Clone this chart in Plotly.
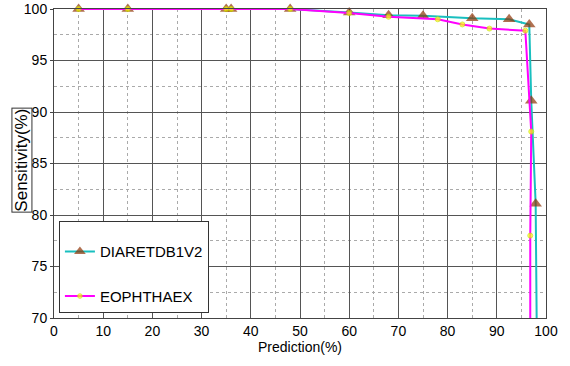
import plotly.graph_objects as go

# DIARETDB1V2
diar_x = [5, 15, 35, 36, 48, 60, 68, 75, 85, 92.5, 96.6, 97.0, 97.9, 98.1]
diar_y = [100, 100, 100, 100, 100, 99.65, 99.4, 99.35, 99.1, 99.0, 98.5, 91.1, 81.1, 70]
diar_marked = [1, 1, 1, 1, 1, 1, 1, 1, 1, 1, 1, 1, 1, 0]

# EOPHTHAEX
eoph_x = [5, 15, 35, 36, 48, 60, 68, 78, 83, 88.5, 95.8, 97.0, 96.8, 96.8]
eoph_y = [100, 100, 100, 100, 100, 99.6, 99.25, 99.0, 98.5, 98.1, 97.9, 88.1, 78.0, 70]
eoph_marked = [1, 1, 1, 1, 1, 1, 1, 1, 1, 1, 1, 1, 1, 0]

x_ticks = [0, 10, 20, 30, 40, 50, 60, 70, 80, 90, 100]
y_ticks = [70, 75, 80, 85, 90, 95, 100]

FONT = "Liberation Sans Narrow, Arial Narrow, Liberation Sans, Arial"
tick_font = dict(family=FONT, size=14, color="black")

fig = go.Figure()
fig.add_trace(go.Scatter(
    x=diar_x, y=diar_y, mode="lines+markers", name="DIARETDB1V2",
    line=dict(color="#19BFBF", width=2),
    marker=dict(symbol="triangle-up", color="#8E3305", size=[11 * m for m in diar_marked],
                line=dict(width=0)),
    cliponaxis=False, legendgroup="a",
))
fig.add_trace(go.Scatter(
    x=eoph_x, y=eoph_y, mode="lines+markers", name="EOPHTHAEX",
    line=dict(color="#FF00FF", width=2),
    marker=dict(symbol="circle", color="#FFFF00", size=[5 * m for m in eoph_marked],
                line=dict(width=1, color="#C8E600")),
    cliponaxis=False, legendgroup="b",
))

fig.update_layout(
    width=570, height=366,
    margin=dict(l=54, r=24, t=9, b=48, autoexpand=False),
    paper_bgcolor="white", plot_bgcolor="white",
    font=tick_font,
    showlegend=True,
    legend=dict(
        x=0.01, y=0.313, xanchor="left", yanchor="top",
        bgcolor="white", bordercolor="#333333", borderwidth=1,
        font=dict(family=FONT, size=15, color="black"),
        title=dict(text=" ", font=dict(size=10)),
        traceorder="grouped", tracegroupgap=22,
        itemwidth=30,
    ),
    xaxis=dict(
        range=[0, 100], tickvals=x_ticks, ticktext=[str(v) for v in x_ticks],
        automargin=False,
        showgrid=True, gridcolor="#555555", gridwidth=1, griddash="solid",
        minor=dict(dtick=5, showgrid=True, gridcolor="#AAAAAA", griddash="dot", gridwidth=1),
        showline=True, linecolor="#444444", linewidth=1, mirror=True,
        ticks="", zeroline=False,
        title=dict(text="Prediction(%)", font=tick_font, standoff=2),
    ),
    yaxis=dict(
        range=[70, 100], tickvals=y_ticks, ticktext=[str(v) for v in y_ticks],
        automargin=False,
        showgrid=True, gridcolor="#555555", gridwidth=1, griddash="solid",
        minor=dict(dtick=2.5, showgrid=True, gridcolor="#AAAAAA", griddash="dot", gridwidth=1),
        showline=True, linecolor="#444444", linewidth=1, mirror=True,
        ticks="outside", ticklen=3, tickcolor="#444444", zeroline=False,
    ),
    annotations=[dict(
        text="Sensitivity(%)", xref="paper", yref="paper",
        x=-0.066, y=0.511, xanchor="center", yanchor="middle",
        textangle=-90, showarrow=False,
        font=dict(family="Liberation Sans, Arial", size=17, color="black"),
        bordercolor="#333333", borderwidth=1, borderpad=0,
    )],
)

fig.write_html("out.html", config={"displayModeBar": False},
               post_script="document.body.style.margin='0';")
